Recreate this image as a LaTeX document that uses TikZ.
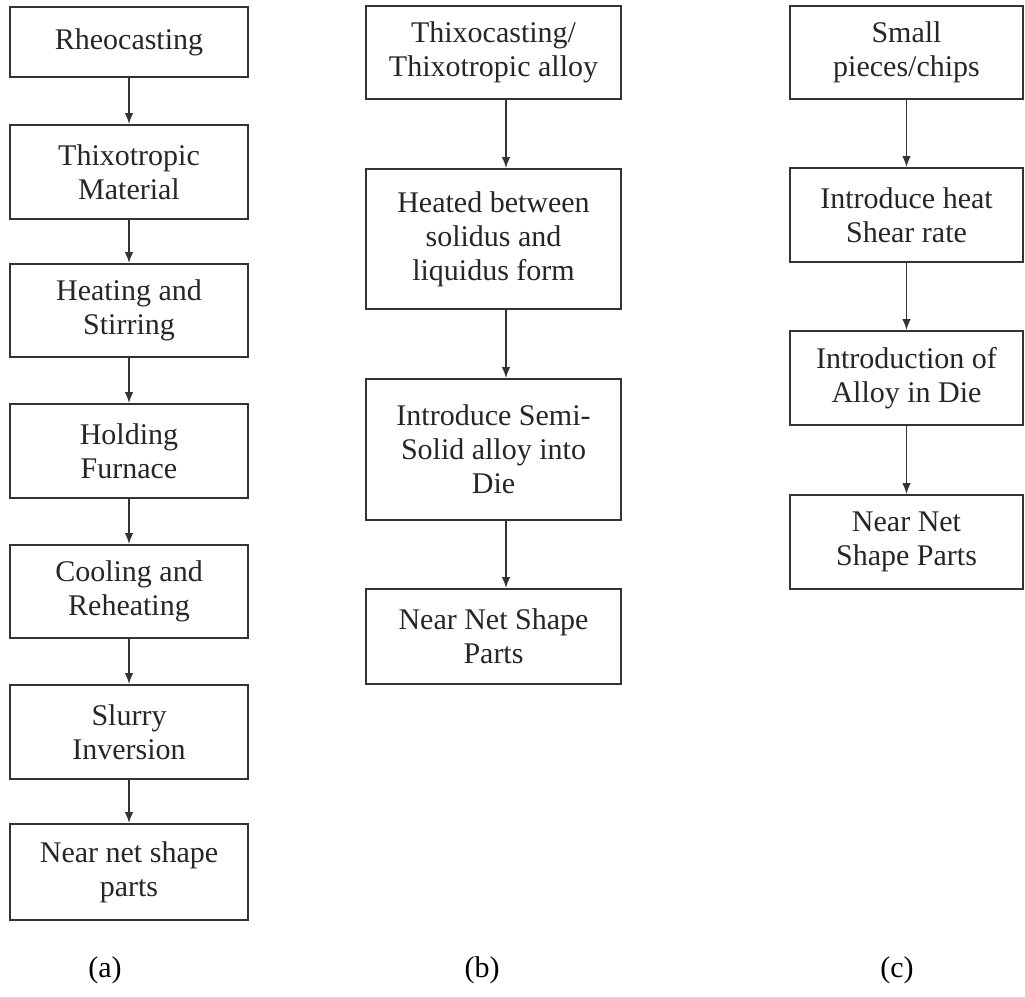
\documentclass[tikz,border=0pt]{standalone}
\usepackage{fontspec}
\setmainfont{Liberation Serif}
\usepackage{tikz}
\usetikzlibrary{arrows.meta}

\begin{document}
\begin{tikzpicture}[x=0.4pt,y=-0.4pt,
    box/.style={draw=black!80,line width=0.75pt,align=center,inner sep=0pt,
      font=\fontsize{12}{13.6}\selectfont,text=black!85},
    cola/.style={box,minimum width=95.2pt},
    colb/.style={box,minimum width=102pt},
    colc/.style={box,minimum width=93.2pt},
    arr/.style={draw=black!80,line width=0.6pt,-{Latex[length=4.4pt,width=3.4pt]}}]
  \useasboundingbox (0,0) rectangle (1025,997);
  % (a) rheocasting route
  \node (a1) at (129,42) [cola,minimum height=28pt] {Rheocasting};
  \node (a2) at (129,172) [cola,minimum height=37.6pt] {Thixotropic\\Material};
  \node (a3) at (129,310.5) [cola,minimum height=37.2pt] {Heating and\\Stirring};
  \node (a4) at (129,451) [cola,minimum height=37.6pt] {Holding\\Furnace};
  \node (a5) at (129,591.5) [cola,minimum height=37.2pt] {Cooling and\\Reheating};
  \node (a6) at (129,732) [cola,minimum height=37.6pt] {Slurry\\Inversion};
  \node (a7) at (129,872) [cola,minimum height=38.4pt] {Near net shape\\parts};
  \foreach \i [evaluate=\i as \j using int(\i+1)] in {1,...,6}
    \draw[arr] (a\i.south) -- (a\j.north);
  % (b) thixocasting route
  \node (b1) at (493.5,52.5) [colb,minimum height=37.2pt] {Thixocasting/\\Thixotropic alloy};
  \node (b2) at (493.5,239) [colb,minimum height=56pt] {Heated between\\solidus and\\liquidus form};
  \node (b3) at (493.5,449.5) [colb,minimum height=56.4pt] {Introduce Semi-\\Solid alloy into\\Die};
  \node (b4) at (493.5,636.5) [colb,minimum height=38pt] {Near Net Shape\\Parts};
  \foreach \i [evaluate=\i as \j using int(\i+1)] in {1,2,3}
    \draw[arr] ([xshift=5pt]b\i.south) -- ([xshift=5pt]b\j.north);
  % (c) chips route
  \node (c1) at (906.5,52.5) [colc,minimum height=37.2pt] {Small\\pieces/chips};
  \node (c2) at (906.5,215) [colc,minimum height=37.6pt] {Introduce heat\\Shear rate};
  \node (c3) at (906.5,378) [colc,minimum height=37.6pt] {Introduction of\\Alloy in Die};
  \node (c4) at (906.5,542) [colc,minimum height=37.6pt] {Near Net\\Shape Parts};
  \foreach \i [evaluate=\i as \j using int(\i+1)] in {1,2,3}
    \draw[arr] (c\i.south) -- (c\j.north);
  % captions
  \node (la) at (105,970) [font=\fontsize{12}{14}\selectfont] {(a)};
  \node (lb) at (482,970) [font=\fontsize{12}{14}\selectfont] {(b)};
  \node (lc) at (897,970) [font=\fontsize{12}{14}\selectfont] {(c)};
\end{tikzpicture}
\end{document}
